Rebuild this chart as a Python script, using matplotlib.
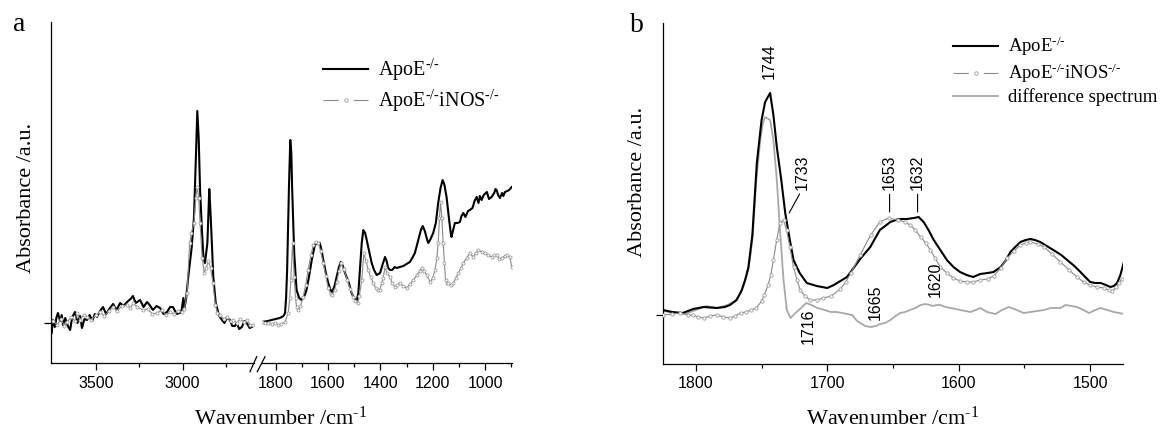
import matplotlib
matplotlib.use("Agg")
import matplotlib.pyplot as plt
from matplotlib.lines import Line2D
from matplotlib.ticker import FixedLocator

plt.rcParams['mathtext.fontset'] = 'custom'
plt.rcParams['mathtext.rm'] = 'Liberation Serif'
plt.rcParams['mathtext.it'] = 'Liberation Serif:italic'
plt.rcParams['lines.scale_dashes'] = False

# ---------------- Panel a data ----------------
# high-wavenumber segment (3750-2600 cm-1)
a_hi_wn_apoe = [3753, 3748, 3745, 3735, 3725, 3717, 3705, 3695, 3688, 3675, 3660, 3647, 3635,
                3619, 3605, 3590, 3579, 3565, 3550, 3535, 3520, 3505, 3493, 3475, 3458, 3440,
                3418, 3400, 3380, 3360, 3340, 3320, 3300, 3286, 3270, 3245, 3225, 3205, 3190,
                3171, 3150, 3130, 3110, 3090, 3072, 3056, 3035, 3016, 3006, 2996, 2990, 2981,
                2968, 2948, 2935, 2924, 2916, 2908, 2900, 2890, 2881, 2872, 2858, 2847, 2840,
                2833, 2824, 2810, 2795, 2786, 2770, 2760, 2745, 2728, 2715, 2700, 2690, 2675,
                2660, 2645, 2632, 2615, 2603]
a_hi_v_apoe = [-0.10, 0.00, 0.03, -0.04, 0.06, 0.10, 0.02, 0.08, -0.02, 0.05, -0.03, -0.07, 0.06,
               0.11, 0.00, 0.07, -0.05, 0.04, 0.03, 0.08, 0.02, 0.09, 0.06, 0.12, 0.16, 0.09,
               0.15, 0.19, 0.13, 0.20, 0.17, 0.21, 0.24, 0.27, 0.20, 0.23, 0.16, 0.21, 0.18,
               0.13, 0.17, 0.15, 0.09, 0.11, 0.16, 0.16, 0.09, 0.10, 0.13, 0.25, 0.15, 0.23,
               0.46, 0.76, 1.06, 1.66, 2.12, 1.85, 1.33, 0.95, 0.66, 0.60, 0.80, 1.34, 1.10,
               0.83, 0.46, 0.20, 0.10, 0.06, 0.02, 0.00, 0.05, 0.03, -0.03, -0.03, 0.00, -0.06,
               -0.04, 0.02, 0.00, -0.05, -0.04]

a_hi_wn_inos = [3745, 3722, 3700, 3680, 3665, 3640, 3620, 3607, 3590, 3570, 3550, 3525, 3500,
                3475, 3450, 3425, 3400, 3375, 3350, 3320, 3300, 3286, 3260, 3228, 3200, 3175,
                3148, 3120, 3095, 3073, 3050, 3025, 3004, 2990, 2975, 2960, 2950, 2935, 2925,
                2916, 2908, 2900, 2888, 2876, 2865, 2853, 2840, 2826, 2812, 2800, 2786, 2765,
                2745, 2725, 2711, 2690, 2670, 2650, 2630, 2612, 2596]
a_hi_v_inos = [0.02, -0.02, 0.04, -0.03, 0.01, 0.06, 0.02, 0.10, 0.03, 0.08, 0.06, 0.03, 0.08,
               0.11, 0.07, 0.12, 0.16, 0.12, 0.17, 0.18, 0.15, 0.20, 0.16, 0.13, 0.14, 0.09,
               0.10, 0.13, 0.08, 0.11, 0.09, 0.12, 0.11, 0.14, 0.30, 0.80, 0.90, 1.00, 1.25,
               1.36, 1.25, 1.00, 0.65, 0.50, 0.55, 0.62, 0.55, 0.40, 0.18, 0.10, 0.08, 0.04,
               0.06, 0.02, 0.03, 0.00, 0.04, 0.01, 0.03, -0.02, -0.02]

# fingerprint segment (1850-900 cm-1)
a_lo_wn_apoe = [1853, 1830, 1815, 1800, 1784, 1770, 1764, 1760, 1756, 1749, 1744, 1740, 1737,
                1729, 1720, 1710, 1701, 1690, 1682, 1672, 1662, 1650, 1640, 1631, 1624, 1618,
                1608, 1599, 1590, 1584, 1575, 1567, 1558, 1551, 1543, 1535, 1520, 1510, 1500,
                1491, 1484, 1478, 1471, 1465, 1458, 1452, 1443, 1433, 1424, 1414, 1407, 1401,
                1392, 1382, 1376, 1370, 1363, 1355, 1345, 1338, 1325, 1312, 1300, 1287, 1276,
                1268, 1255, 1245, 1238, 1230, 1222, 1217, 1208, 1198, 1188, 1179, 1170, 1162,
                1155, 1147, 1138, 1130, 1128, 1120, 1115, 1105, 1096, 1090, 1083, 1075, 1065,
                1058, 1048, 1040, 1032, 1025, 1020, 1013, 1005, 993, 985, 975, 965, 960, 956,
                950, 943, 935, 930, 924, 915, 908, 898]
a_lo_v_apoe = [0.01, 0.02, 0.03, 0.04, 0.05, 0.07, 0.10, 0.25, 0.53, 1.36, 1.83, 1.70, 1.36,
               0.70, 0.33, 0.25, 0.23, 0.27, 0.33, 0.47, 0.63, 0.78, 0.80, 0.80, 0.72, 0.63,
               0.50, 0.40, 0.33, 0.31, 0.37, 0.46, 0.56, 0.61, 0.57, 0.50, 0.40, 0.30, 0.25,
               0.21, 0.30, 0.53, 0.80, 0.93, 0.90, 0.83, 0.72, 0.60, 0.53, 0.48, 0.49, 0.50,
               0.58, 0.66, 0.62, 0.55, 0.53, 0.53, 0.56, 0.55, 0.56, 0.57, 0.59, 0.61, 0.66,
               0.70, 0.83, 0.93, 0.97, 0.92, 0.84, 0.80, 0.84, 0.90, 1.00, 1.20, 1.35, 1.43,
               1.38, 1.26, 1.05, 0.88, 0.86, 0.95, 1.00, 1.00, 1.01, 1.07, 1.10, 1.06, 1.12,
               1.13, 1.15, 1.22, 1.26, 1.20, 1.27, 1.23, 1.28, 1.31, 1.24, 1.26, 1.30, 1.34, 1.33,
               1.28, 1.25, 1.30, 1.27, 1.31, 1.32, 1.33, 1.36]

a_lo_wn_inos = [1853, 1840, 1830, 1815, 1803, 1790, 1780, 1764, 1752, 1746, 1742, 1735, 1729,
                1724, 1720, 1714, 1705, 1695, 1685, 1676, 1665, 1656, 1645, 1637, 1628, 1618,
                1608, 1599, 1590, 1584, 1575, 1567, 1558, 1551, 1540, 1526, 1515, 1503, 1495,
                1487, 1480, 1471, 1463, 1455, 1446, 1437, 1427, 1418, 1408, 1402, 1395, 1389,
                1382, 1375, 1363, 1355, 1344, 1335, 1325, 1313, 1300, 1287, 1274, 1260, 1250,
                1242, 1232, 1223, 1210, 1200, 1191, 1184, 1179, 1174, 1170, 1165, 1160, 1155,
                1151, 1145, 1141, 1130, 1121, 1112, 1102, 1092, 1083, 1070, 1058, 1045, 1036,
                1026, 1013, 1000, 987, 975, 965, 956, 945, 936, 925, 917, 905, 898]
a_lo_v_inos = [0.01, 0.00, 0.00, -0.01, 0.00, -0.02, -0.01, 0.01, 0.10, 0.25, 0.43, 0.80, 0.46,
               0.25, 0.16, 0.13, 0.17, 0.26, 0.38, 0.53, 0.68, 0.78, 0.81, 0.80, 0.72, 0.60,
               0.47, 0.35, 0.29, 0.28, 0.33, 0.41, 0.52, 0.60, 0.54, 0.43, 0.34, 0.26, 0.22,
               0.20, 0.27, 0.43, 0.70, 0.62, 0.53, 0.46, 0.40, 0.35, 0.33, 0.33, 0.40, 0.45,
               0.56, 0.50, 0.46, 0.40, 0.36, 0.38, 0.40, 0.37, 0.35, 0.39, 0.43, 0.48, 0.52,
               0.55, 0.52, 0.48, 0.41, 0.45, 0.53, 0.65, 0.80, 1.05, 1.21, 1.05, 0.80, 0.60,
               0.43, 0.40, 0.40, 0.38, 0.40, 0.45, 0.50, 0.55, 0.60, 0.65, 0.70, 0.66, 0.70,
               0.73, 0.71, 0.70, 0.68, 0.66, 0.68, 0.68, 0.64, 0.65, 0.67, 0.68, 0.66, 0.56]

# ---------------- Panel b data ----------------
b_wn_apoe = [1825, 1818, 1810, 1802, 1794, 1784, 1778, 1774, 1769, 1765, 1762.5, 1760, 1757,
             1753.6, 1750, 1747.3, 1743.5, 1741, 1738.4, 1735, 1732, 1728.5, 1725.7, 1721,
             1715.6, 1708, 1700, 1695, 1690, 1685, 1680, 1675, 1667.3, 1660, 1652, 1645.8,
             1639.4, 1634, 1630.5, 1626.7, 1623, 1619, 1614, 1609, 1604, 1599, 1594, 1589,
             1583.6, 1578, 1573.5, 1568, 1564, 1560.7, 1557, 1553, 1549, 1545.5, 1542, 1538,
             1533, 1528, 1522, 1517.5, 1512, 1507.4, 1503, 1500, 1496, 1492, 1488, 1484.6,
             1482, 1479.5, 1477, 1474.5]
b_v_apoe = [0.05, 0.03, 0.02, 0.06, 0.08, 0.07, 0.08, 0.10, 0.15, 0.25, 0.35, 0.48, 0.80,
            1.52, 1.95, 2.13, 2.22, 2.00, 1.68, 1.35, 1.02, 0.75, 0.55, 0.42,
            0.32, 0.29, 0.27, 0.30, 0.34, 0.38, 0.47, 0.56, 0.68, 0.85, 0.93, 0.96,
            0.96, 0.97, 0.98, 0.93, 0.85, 0.75, 0.65, 0.55, 0.48, 0.43, 0.40, 0.38,
            0.41, 0.42, 0.43, 0.48, 0.55, 0.63, 0.68, 0.73, 0.75, 0.76, 0.75, 0.73,
            0.69, 0.65, 0.60, 0.55, 0.49, 0.43, 0.37, 0.33, 0.32, 0.32, 0.30, 0.28,
            0.29, 0.32, 0.40, 0.52]

b_wn_inos = [1825, 1818, 1812, 1806, 1802, 1798, 1794, 1789, 1784, 1779, 1774, 1770, 1766,
             1762, 1758, 1754, 1750, 1748, 1745, 1743, 1741, 1738.5, 1736, 1733.3, 1731,
             1728.5, 1725.7, 1723, 1720.6, 1717, 1713, 1708, 1703, 1697, 1690, 1686, 1682,
             1675, 1667, 1660, 1653.4, 1646, 1641, 1637, 1633, 1629, 1625, 1621.6, 1618,
             1614, 1609, 1604, 1599, 1594, 1589, 1583.6, 1578, 1573.5, 1568, 1563, 1558,
             1553, 1549, 1545.5, 1540, 1535, 1529, 1522.6, 1516, 1510, 1505, 1500, 1495,
             1489.7, 1486, 1483, 1480, 1478, 1476]
b_v_inos = [0.00, 0.01, 0.02, 0.00, 0.00, -0.02, -0.03, -0.01, 0.00, -0.02, -0.03, -0.01, 0.02,
            0.03, 0.05, 0.07, 0.14, 0.20, 0.30, 0.40, 0.55, 0.75, 0.92, 0.95, 0.85,
            0.68, 0.48, 0.35, 0.25, 0.19, 0.15, 0.15, 0.17, 0.19, 0.26, 0.33, 0.42,
            0.60, 0.80, 0.93, 0.97, 0.95, 0.93, 0.90, 0.85, 0.78, 0.72, 0.65, 0.57,
            0.48, 0.42, 0.37, 0.34, 0.33, 0.33, 0.35, 0.36, 0.39, 0.47, 0.57, 0.64,
            0.70, 0.72, 0.73, 0.71, 0.68, 0.61, 0.53, 0.45, 0.38, 0.33, 0.30, 0.28,
            0.27, 0.25, 0.24, 0.28, 0.32, 0.36]

b_wn_diff = [1825, 1815, 1808, 1800, 1792, 1784, 1776, 1770, 1766, 1763, 1760, 1757, 1754,
             1751, 1749, 1747.3, 1743.5, 1741, 1738.4, 1736, 1733.3, 1730.8, 1728, 1725, 1720,
             1716, 1712, 1707.6, 1702, 1697.5, 1693, 1688.6, 1685, 1681, 1678, 1675, 1671,
             1667, 1663, 1660, 1656, 1652, 1648, 1644.5, 1641, 1637, 1633, 1629, 1625.5,
             1622, 1619.4, 1617, 1614, 1610, 1606.4, 1602, 1599, 1595, 1591, 1587, 1583.6,
             1578.5, 1572, 1567, 1562, 1556, 1550.6, 1545, 1540.4, 1535, 1530, 1522.6,
             1518.8, 1514, 1510, 1505, 1501, 1496, 1492, 1487, 1482, 1478, 1474.5]
b_v_diff = [0.04, 0.02, 0.01, 0.05, 0.09, 0.07, 0.10, 0.14, 0.22, 0.33, 0.45, 0.75, 1.35,
            1.75, 1.92, 1.98, 1.95, 1.75, 1.35, 0.85, 0.35, 0.05, -0.03, 0.01, 0.07,
            0.12, 0.10, 0.07, 0.05, 0.03, 0.03, 0.02, 0.01, 0.00, -0.05, -0.08, -0.11,
            -0.12, -0.11, -0.09, -0.08, -0.05, -0.01, 0.02, 0.03, 0.05, 0.07, 0.10, 0.11,
            0.10, 0.09, 0.10, 0.10, 0.08, 0.07, 0.06, 0.05, 0.04, 0.03, 0.05, 0.07,
            0.03, 0.01, 0.05, 0.08, 0.05, 0.02, 0.03, 0.04, 0.05, 0.07, 0.07,
            0.10, 0.09, 0.08, 0.05, 0.02, 0.05, 0.07, 0.05, 0.03, 0.02, 0.01]

# peak labels for panel b: (text, label x, label y, va, leader target or None)
b_peak_labels = [
    ("1744", 1744.0, 2.36, 'bottom', None),
    ("1733", 1719.4, 1.25, 'bottom', (1729.0, 1.02)),
    ("1716", 1714.8, 0.07, 'top', None),
    ("1665", 1663.5, 0.30, 'top', None),
    ("1653", 1652.6, 1.25, 'bottom', (1652.6, 1.03)),
    ("1632", 1631.3, 1.25, 'bottom', (1631.3, 1.03)),
    ("1620", 1617.8, 0.18, 'bottom', None),
]

legend_a = ["ApoE$^{\\text{-/-}}$", "ApoE$^{\\text{-/-}}$iNOS$^{\\text{-/-}}$"]
legend_b = legend_a + ["difference spectrum"]

# ---------------- styles ----------------
BLACK = '#000000'
GRAY = '#8a8a8a'
DIFF = '#a8a8a8'
SANS = 'Liberation Sans'
SERIF = 'Liberation Serif'
TICKFS = 11.5
LABFS = 16
LEGFS_A = 14.5
LEGFS_B = 13.5

W, H = 1166, 429
fig = plt.figure(figsize=(W / 100, H / 100), dpi=100)


def fx(px):
    return px / W


def fy(py):
    return (H - py) / H


def style_axes(ax, left=True):
    for s in ['top', 'right']:
        ax.spines[s].set_visible(False)
    ax.spines['left'].set_visible(left)
    for s in ['left', 'bottom']:
        ax.spines[s].set_linewidth(0.9)
    ax.tick_params(axis='both', which='major', direction='out', length=5, width=0.9,
                   labelsize=TICKFS, pad=4, color='black')
    ax.tick_params(axis='x', which='minor', direction='out', length=3, width=0.9)
    for lab in ax.get_xticklabels():
        lab.set_fontfamily(SANS)
    ax.set_yticks([0])
    ax.set_yticklabels([])
    if not left:
        ax.tick_params(axis='y', which='both', left=False)
    ax.set_facecolor('none')


def inos_line(ax, x, y, ms):
    return ax.plot(x, y, color=GRAY, lw=0.8, marker='o', ms=ms, mfc='white',
                   mec='#9a9a9a', mew=0.6, zorder=3)


# Panel a: two axes forming a broken x-axis
ay0, ah = fy(363), 341 / H
axL = fig.add_axes([fx(51), ay0, fx(254) - fx(51), ah])
axR = fig.add_axes([fx(262), ay0, fx(512) - fx(262), ah])

axL.plot(a_hi_wn_apoe, a_hi_v_apoe, color=BLACK, lw=1.5, zorder=2)
inos_line(axL, a_hi_wn_inos, a_hi_v_inos, 2.2)
axR.plot(a_lo_wn_apoe, a_lo_v_apoe, color=BLACK, lw=1.5, zorder=2)
inos_line(axR, a_lo_wn_inos, a_lo_v_inos, 2.2)

axL.set_xlim(3757, 2590)
axR.set_xlim(1852, 897)
for ax in (axL, axR):
    ax.set_ylim(-0.40, 3.01)
axL.xaxis.set_major_locator(FixedLocator([3500, 3000]))
axL.xaxis.set_minor_locator(FixedLocator([3250, 2750]))
axR.xaxis.set_major_locator(FixedLocator([1800, 1600, 1400, 1200, 1000]))
axR.xaxis.set_minor_locator(FixedLocator([1700, 1500, 1300, 1100, 900]))
style_axes(axL, left=True)
style_axes(axR, left=False)
axR.spines['left'].set_visible(False)

# break marks
for (x1, y1, x2, y2) in [(250, 371.7, 256.7, 356.7), (257.3, 371.7, 265, 356.7)]:
    fig.add_artist(Line2D([fx(x1), fx(x2)], [fy(y1), fy(y2)], color='black', lw=0.9,
                          transform=fig.transFigure))

fig.text(fx(281), fy(425), "Wavenumber /cm$^{\\text{-1}}$", ha='center', va='baseline',
         fontsize=LABFS, family=SERIF)
fig.text(fx(27), fy(198), "Absorbance /a.u.", ha='center', va='center', rotation=90,
         fontsize=LABFS, family=SERIF)
fig.text(fx(13), fy(31), "a", ha='left', va='baseline', fontsize=20, family=SERIF)

h_apoe = Line2D([], [], color=BLACK, lw=1.5)
h_inos = Line2D([], [], color=GRAY, lw=0.8, linestyle=(0, (11, 10.8)), marker='o', ms=2.5,
                mfc='white', mec='#9a9a9a', mew=0.6)
h_diff = Line2D([], [], color=DIFF, lw=1.3)

leg_a = axR.legend([h_apoe, h_inos], legend_a, loc='upper left',
                   bbox_to_anchor=(fx(323), fy(57)), bbox_transform=fig.transFigure,
                   frameon=False, borderpad=0, borderaxespad=0, handlelength=2.25,
                   handletextpad=0.5, labelspacing=0.22, numpoints=1,
                   prop={'family': SERIF, 'size': LEGFS_A})

# Panel b
axb = fig.add_axes([fx(663), fy(364), fx(1123) - fx(663), 341 / H])
axb.plot(b_wn_diff, b_v_diff, color=DIFF, lw=1.3, zorder=1)
axb.plot(b_wn_apoe, b_v_apoe, color=BLACK, lw=1.5, zorder=2)
inos_line(axb, b_wn_inos, b_v_inos, 2.4)
axb.set_xlim(1825, 1475)
axb.set_ylim(-0.49, 2.92)
axb.xaxis.set_major_locator(FixedLocator([1800, 1700, 1600, 1500]))
axb.xaxis.set_minor_locator(FixedLocator([1750, 1650, 1550]))
style_axes(axb, left=True)

for txt, x, y, va, target in b_peak_labels:
    if target is None:
        axb.text(x, y, txt, rotation=90, ha='center', va=va, fontsize=TICKFS, family=SANS)
    else:
        axb.annotate(txt, xy=target, xytext=(x, y), rotation=90, ha='center', va=va,
                     fontsize=TICKFS, family=SANS,
                     arrowprops=dict(arrowstyle='-', color='black', lw=0.8,
                                     shrinkA=1, shrinkB=0, relpos=(0.5, 0.0)))

fig.text(fx(893), fy(425), "Wavenumber /cm$^{\\text{-1}}$", ha='center', va='baseline',
         fontsize=LABFS, family=SERIF)
fig.text(fx(637), fy(182), "Absorbance /a.u.", ha='center', va='center', rotation=90,
         fontsize=LABFS, family=SERIF)
fig.text(fx(630), fy(32), "b", ha='left', va='baseline', fontsize=20, family=SERIF)

leg_b = axb.legend([h_apoe, h_inos, h_diff], legend_b, loc='upper left',
                   bbox_to_anchor=(fx(953), fy(35)), bbox_transform=fig.transFigure,
                   frameon=False, borderpad=0, borderaxespad=0, handlelength=2.4,
                   handletextpad=0.55, labelspacing=0.18, numpoints=1,
                   prop={'family': SERIF, 'size': LEGFS_B})

fig.savefig("out.png", dpi=100)
